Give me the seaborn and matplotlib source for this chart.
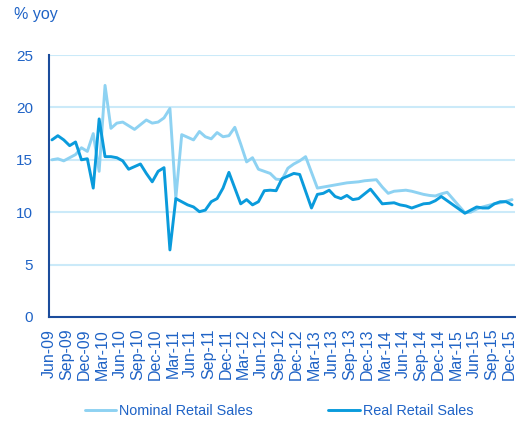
import numpy as np
import pandas as pd
import matplotlib
matplotlib.use("Agg")
import matplotlib.pyplot as plt
from matplotlib.lines import Line2D
import seaborn as sns

# monthly, Jun-09 .. Dec-15 (79 months)
months = pd.date_range("2009-06-01", "2015-12-01", freq="MS")
month_labels = [d.strftime("%b-%y") for d in months]

nominal = [
    15.0, 15.1, 14.9, 15.2, 15.5, 16.15, 15.8, 17.5, 13.9, 22.1,
    18.0, 18.5, 18.6, 18.25, 17.9, 18.35, 18.8, 18.5, 18.6, 19.0,
    19.9, 11.35, 17.4, 17.15, 16.9, 17.7, 17.2, 17.0, 17.6, 17.2,
    17.3, 18.1, 16.5, 14.8, 15.2, 14.1, 13.9, 13.7, 13.15, 13.1,
    14.2, 14.6, 14.9, 15.3, 13.8, 12.3, 12.4, 12.5, 12.6, 12.7,
    12.8, 12.85, 12.9, 13.0, 13.05, 13.1, 12.4, 11.8, 12.0, 12.05,
    12.1, 12.0, 11.85, 11.7, 11.6, 11.55, 11.75, 11.9, 11.25, 10.6,
    9.95, 10.0, 10.3, 10.5, 10.65, 10.8, 10.9, 11.05, 11.2,
]
real = [
    16.9, 17.3, 16.9, 16.35, 16.7, 15.0, 15.1, 12.3, 18.9, 15.3,
    15.3, 15.2, 14.9, 14.1, 14.35, 14.6, 13.7, 12.9, 13.9, 14.25,
    6.4, 11.3, 11.0, 10.7, 10.5, 10.05, 10.2, 11.0, 11.3, 12.3,
    13.8, 12.3, 10.8, 11.2, 10.7, 11.0, 12.05, 12.1, 12.05, 13.2,
    13.45, 13.7, 13.6, 12.0, 10.4, 11.7, 11.8, 12.1, 11.5, 11.3,
    11.6, 11.2, 11.3, 11.75, 12.2, 11.5, 10.8, 10.85, 10.9, 10.7,
    10.6, 10.4, 10.6, 10.8, 10.85, 11.1, 11.5, 11.1, 10.7, 10.3,
    9.9, 10.2, 10.5, 10.4, 10.4, 10.8, 11.0, 11.0, 10.7,
]
series_names = ["Nominal Retail Sales", "Real Retail Sales"]
colors = ["#8ED2F2", "#0A9BDC"]

text_c = "#1F63C6"
axis_c = "#1B4C9C"
grid_c = "#CBEAF9"

pos = np.arange(len(months)) + 0.5  # points sit between the tick marks
df = pd.concat([
    pd.DataFrame({"pos": pos, "value": nominal, "series": series_names[0]}),
    pd.DataFrame({"pos": pos, "value": real, "series": series_names[1]}),
])

sns.set_style("white")
plt.rcParams["font.family"] = ["Liberation Sans", "DejaVu Sans"]

fig = plt.figure(figsize=(5.16, 4.23), dpi=100)
ax = fig.add_axes([49 / 516, 1 - 317 / 423, 466 / 516, 262 / 423])

sns.lineplot(data=df, x="pos", y="value", hue="series", hue_order=series_names,
             palette=colors, linewidth=2.1, ax=ax, legend=False)

ax.set_xlim(0, len(months))
ax.set_ylim(0, 25)
ax.set_yticks([0, 5, 10, 15, 20, 25])
for yv in [5, 10, 15, 20, 25]:
    ax.axhline(yv, color=grid_c, lw=1.5, zorder=0)

tick_idx = list(range(0, len(months), 3))
ax.set_xticks(tick_idx)
ax.set_xticklabels([month_labels[i] for i in tick_idx], rotation=90)
ax.set_xlabel("")
ax.set_ylabel("")

for side in ["top", "right"]:
    ax.spines[side].set_visible(False)
for side in ["left", "bottom"]:
    ax.spines[side].set_color(axis_c)
    ax.spines[side].set_linewidth(1.5)
ax.tick_params(axis="both", colors=axis_c, labelcolor=text_c,
               length=5, width=1.5, direction="out")
ax.tick_params(axis="x", labelsize=11.5, pad=3.5)
ax.tick_params(axis="y", labelsize=11, pad=6.5)

fig.text(14 / 516, 1 - 15 / 423, "% yoy", color=text_c, fontsize=11.5, va="center")

handles = [Line2D([], [], color=c, lw=2.1) for c in colors]
fig.legend(handles, series_names, loc="center", bbox_to_anchor=(279 / 516, 12 / 423),
           ncol=2, frameon=False, fontsize=10.4, labelcolor=text_c,
           handlelength=2.2, handletextpad=0.2, columnspacing=5.2)

fig.savefig("out.png", dpi=100)
